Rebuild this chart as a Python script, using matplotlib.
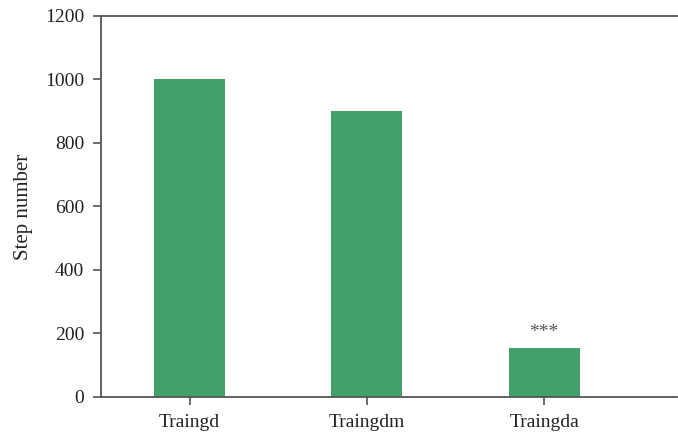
import matplotlib
matplotlib.use("Agg")
import matplotlib.pyplot as plt

# data
methods = ["Traingd", "Traingdm", "Traingda"]
steps = [1000, 900, 155]
marks = ["", "", "***"]

plt.rcParams["font.family"] = ["Liberation Serif", "DejaVu Serif"]

fig = plt.figure(figsize=(6.78, 4.41), dpi=100)
ax = fig.add_axes([0.149, 0.0998, 0.8495, 0.864])

x = list(range(len(methods)))
ax.bar(x, steps, width=0.4, color="#43a06b")

# significance stars over the bars
for xi, v, m in zip(x, steps, marks):
    if m:
        ax.text(xi, v + 22, m, ha="center", va="bottom", fontsize=14, color="#555555")

ax.set_xlim(-0.5, 2.75)
ax.set_ylim(0, 1200)
ax.set_yticks(range(0, 1201, 200))
ax.set_xticks(x)
ax.set_xticklabels(methods)
ax.set_ylabel("Step number", fontsize=15, color="#222222", labelpad=9)

for side in ["left", "top", "bottom"]:
    ax.spines[side].set_color("#555555")
    ax.spines[side].set_linewidth(1.3)
ax.spines["right"].set_visible(False)
ax.tick_params(axis="both", direction="out", length=6, width=1.2, color="#555555",
               labelsize=14, labelcolor="#222222")
ax.tick_params(axis="y", pad=6)
ax.tick_params(axis="x", pad=6)

fig.savefig("out.png", dpi=100)
